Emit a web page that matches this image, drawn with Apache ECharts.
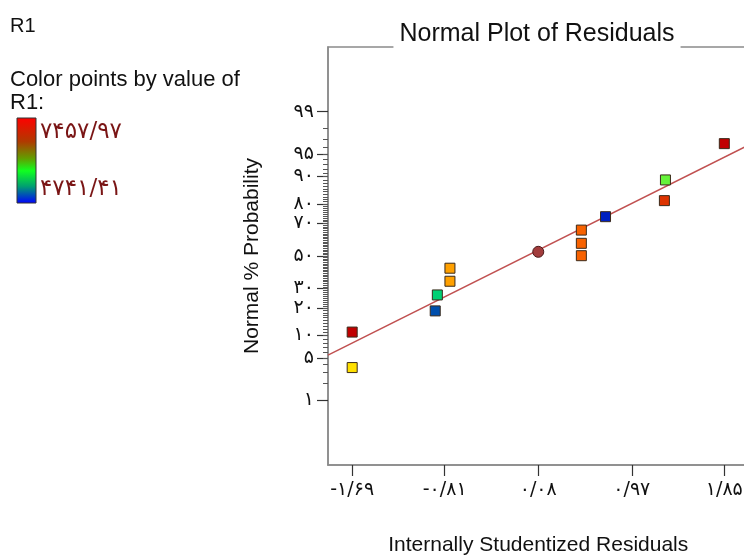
<!DOCTYPE html>
<html>
<head>
<meta charset="utf-8">
<script src="https://cdn.jsdelivr.net/npm/echarts@6/dist/echarts.min.js"></script>
<style>
html,body{margin:0;padding:0;background:#fff;}
#chart{width:744px;height:555px;}
</style>
</head>
<body>
<div id="chart"></div>
<script>
// residuals, normal probability (%) and R1 value of each run
var residuals = [-1.69, -1.69, -0.90, -0.88, -0.76, -0.76, 0.49, 0.49, 0.49, 0.72, 1.28, 1.29, 1.85];
var probPct   = [3.6, 11.0, 18.8, 26.5, 34.2, 42.2, 50.2, 58.1, 66.2, 73.7, 81.4, 89.0, 96.5];
var r1Values  = [6100, 7457, 4880, 5280, 6490, 6490, 6870, 6870, 6870, 4741.41, 7150, 5690, 7457.97];
// the round marker sitting on the line
var centerPoint = [0.08, 52.7];
// reference line, read at the two edges of the plot
var fitLine = [[-1.92, 5.5], [2.08, 96.3]];
var xTicks = [-1.69, -0.81, 0.08, 0.97, 1.85];
var probLabels = [1, 5, 10, 20, 30, 50, 70, 80, 90, 95, 99];
var r1Range = [4741.41, 7457.97];

var latin = 'Liberation Sans, Arial, DejaVu Sans';
var persian = 'DejaVu Sans, Noto Sans';

function toFa(s) {
    var fa = '۰۱۲۳۴۵۶۷۸۹';
    return String(s).replace(/[0-9]/g, function (d) { return fa[+d]; }).replace('.', '/');
}

// inverse normal CDF (Acklam)
function probit(p) {
    var a = [-3.969683028665376e+01, 2.209460984245205e+02, -2.759285104469687e+02, 1.383577518672690e+02, -3.066479806614716e+01, 2.506628277459239e+00];
    var b = [-5.447609879822406e+01, 1.615858368580409e+02, -1.556989798598866e+02, 6.680131188771972e+01, -1.328068155288572e+01];
    var c = [-7.784894002430293e-03, -3.223964580411365e-01, -2.400758277161838e+00, -2.549671180376182e+00, 4.374664141464968e+00, 2.938163982698783e+00];
    var d = [7.784695709041462e-03, 3.224671290700398e-01, 2.445134137142996e+00, 3.754408661907416e+00];
    var pl = 0.02425, q, r;
    if (p < pl) {
        q = Math.sqrt(-2 * Math.log(p));
        return (((((c[0]*q+c[1])*q+c[2])*q+c[3])*q+c[4])*q+c[5]) / ((((d[0]*q+d[1])*q+d[2])*q+d[3])*q+1);
    }
    if (p > 1 - pl) {
        q = Math.sqrt(-2 * Math.log(1 - p));
        return -(((((c[0]*q+c[1])*q+c[2])*q+c[3])*q+c[4])*q+c[5]) / ((((d[0]*q+d[1])*q+d[2])*q+d[3])*q+1);
    }
    q = p - 0.5; r = q * q;
    return (((((a[0]*r+a[1])*r+a[2])*r+a[3])*r+a[4])*r+a[5])*q / (((((b[0]*r+b[1])*r+b[2])*r+b[3])*r+b[4])*r+1);
}

var majorZ = probLabels.map(function (p) { return probit(p / 100); });
var minorZ = [];
for (var k = 2; k <= 98; k++) minorZ.push(probit(k / 100));

var points = residuals.map(function (x, i) {
    return [x, probit(probPct[i] / 100), r1Values[i]];
});

var chart = echarts.init(document.getElementById('chart'));
chart.setOption({
    animation: false,
    backgroundColor: '#fff',
    grid: {
        left: 328, top: 47, bottom: 90, right: -4.5,
        outerBoundsMode: 'none', containLabel: false,
        show: true, borderColor: '#8a8a8a', borderWidth: 1.5
    },
    xAxis: {
        type: 'value', min: -1.92, max: 2.08,
        name: 'Internally Studentized Residuals',
        nameLocation: 'middle', nameGap: 70,
        nameTextStyle: { fontFamily: latin, fontSize: 21, color: '#111' },
        splitLine: { show: false },
        axisLine: { onZero: false, lineStyle: { color: '#8a8a8a', width: 1.5 } },
        axisTick: { customValues: xTicks, length: 11, lineStyle: { color: '#333', width: 1.2 } },
        axisLabel: {
            customValues: xTicks, margin: 16,
            fontFamily: persian, fontSize: 19, color: '#111',
            formatter: function (v) { return (v < 0 ? '-' : '') + toFa(Math.abs(v).toFixed(2)); }
        }
    },
    yAxis: [{
        type: 'value', min: -3.37, max: 3.37,
        name: 'Normal % Probability',
        nameLocation: 'middle', nameGap: 65, nameRotate: 90,
        nameTextStyle: { fontFamily: latin, fontSize: 21, color: '#111' },
        splitLine: { show: false },
        axisLine: { onZero: false, lineStyle: { color: '#8a8a8a', width: 1.5 } },
        axisTick: { customValues: majorZ, length: 11, lineStyle: { color: '#333', width: 1.2 } },
        axisLabel: {
            customValues: majorZ, margin: 14,
            fontFamily: persian, fontSize: 19, color: '#111',
            formatter: function (v) {
                var i = majorZ.findIndex(function (z) { return Math.abs(z - v) < 1e-6; });
                return i < 0 ? '' : toFa(probLabels[i]);
            }
        }
    }, {
        type: 'value', min: -3.37, max: 3.37, position: 'left',
        splitLine: { show: false },
        axisLine: { show: false, onZero: false },
        axisLabel: { show: false },
        axisTick: { customValues: minorZ, length: 5, lineStyle: { color: '#555', width: 1 } }
    }],
    visualMap: {
        show: false, type: 'continuous', seriesIndex: 0, dimension: 2,
        min: r1Range[0], max: r1Range[1],
        inRange: { color: ['#0020c0', '#00ff60', '#ffe000', '#ff7000', '#c00000'] }
    },
    series: [{
        type: 'scatter',
        data: points,
        symbol: 'rect', symbolSize: 10,
        itemStyle: { borderColor: '#3a2a1a', borderWidth: 1, opacity: 1 },
        z: 5
    }, {
        type: 'scatter',
        data: [[centerPoint[0], probit(centerPoint[1] / 100)]],
        symbol: 'circle', symbolSize: 11,
        itemStyle: { color: '#a23c3c', borderColor: '#4a1a1a', borderWidth: 1, opacity: 1 },
        z: 6
    }, {
        type: 'line',
        data: fitLine.map(function (p) { return [p[0], probit(p[1] / 100)]; }),
        symbol: 'none',
        lineStyle: { color: '#c05050', width: 1.5 },
        z: 4
    }],
    graphic: [
        { type: 'text', x: 537, y: 34, z: 100, style: { text: 'Normal Plot of Residuals', fontFamily: latin, fontSize: 25, fill: '#111', align: 'center', verticalAlign: 'middle', backgroundColor: '#fff', padding: [2, 6] } },
        { type: 'text', x: 10, y: 26, style: { text: 'R1', fontFamily: latin, fontSize: 20, fill: '#111', verticalAlign: 'middle' } },
        { type: 'text', x: 10, y: 80, style: { text: 'Color points by value of', fontFamily: latin, fontSize: 22, fill: '#111', verticalAlign: 'middle' } },
        { type: 'text', x: 10, y: 103, style: { text: 'R1:', fontFamily: latin, fontSize: 22, fill: '#111', verticalAlign: 'middle' } },
        {
            type: 'rect', shape: { x: 17, y: 118, width: 19, height: 85 },
            style: {
                stroke: '#333', lineWidth: 1,
                fill: new echarts.graphic.LinearGradient(0, 0, 0, 1, [
                    { offset: 0, color: '#ff0000' },
                    { offset: 0.28, color: '#b03a00' },
                    { offset: 0.48, color: '#60a000' },
                    { offset: 0.62, color: '#10ff20' },
                    { offset: 0.8, color: '#00a070' },
                    { offset: 1, color: '#0000ff' }
                ])
            }
        },
        { type: 'text', x: 40, y: 132, style: { text: toFa(r1Range[1].toFixed(2)), fontFamily: persian, fontSize: 23, fill: '#7a1515', verticalAlign: 'middle' } },
        { type: 'text', x: 40, y: 189, style: { text: toFa(r1Range[0].toFixed(2)), fontFamily: persian, fontSize: 23, fill: '#7a1515', verticalAlign: 'middle' } }
    ]
});
</script>
</body>
</html>
